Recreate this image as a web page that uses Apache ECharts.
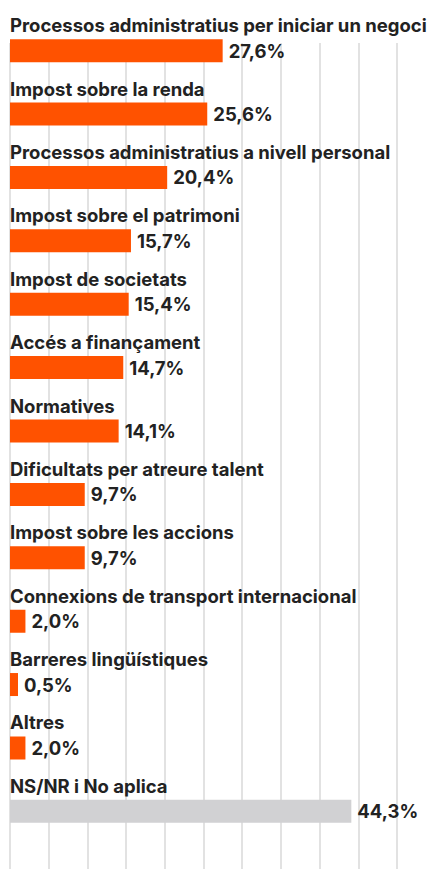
<!DOCTYPE html>
<html>
<head>
<meta charset="utf-8">
<script src="https://cdn.jsdelivr.net/npm/echarts@6/dist/echarts.min.js"></script>
<style>
html, body { margin: 0; padding: 0; background: #fff; }
#chart { width: 428px; height: 869px; }
</style>
</head>
<body>
<div id="chart"></div>
<script>
// categories, top to bottom
var categories = [
    'Processos administratius per iniciar un negoci',
    'Impost sobre la renda',
    'Processos administratius a nivell personal',
    'Impost sobre el patrimoni',
    'Impost de societats',
    'Accés a finançament',
    'Normatives',
    'Dificultats per atreure talent',
    'Impost sobre les accions',
    'Connexions de transport internacional',
    'Barreres lingüístiques',
    'Altres',
    'NS/NR i No aplica'
];
// percentages
var values = [27.6, 25.6, 20.4, 15.7, 15.4, 14.7, 14.1, 9.7, 9.7, 2.0, 0.5, 2.0, 44.3];
// last row drawn in gray
var grayRows = ['NS/NR i No aplica'];

var ORANGE = '#ff5200';
var GRAY = '#d1d1d3';
var FONT = 'Inter';
var FS = 18.5;

var barData = [];
for (var i = 0; i < values.length; i++) {
    barData.push({
        value: values[i],
        itemStyle: { color: grayRows.indexOf(categories[i]) >= 0 ? GRAY : ORANGE }
    });
}

var chart = echarts.init(document.getElementById('chart'), null, { renderer: 'svg' });

var option = {
    animation: false,
    grid: [
        // bars
        { left: 10, right: 31, top: 19, bottom: 26, containLabel: false },
        // background gridlines
        { left: 10, right: 31, top: 43, bottom: 0, containLabel: false }
    ],
    xAxis: [
        {
            gridIndex: 0, type: 'value', min: 0, max: 50,
            show: false
        },
        {
            gridIndex: 1, type: 'value', min: 0, max: 50, interval: 5,
            axisLine: { show: false }, axisTick: { show: false }, axisLabel: { show: false },
            splitLine: { show: true, lineStyle: { color: '#e2e2e2', width: 2 } }
        }
    ],
    yAxis: [
        {
            gridIndex: 0, type: 'category', data: categories, inverse: true,
            axisLine: { show: false }, axisTick: { show: false }, splitLine: { show: false },
            axisLabel: {
                inside: true, margin: 0, align: 'left', verticalAlign: 'bottom',
                padding: [0, 0, 16, 0],
                color: '#222', fontFamily: FONT, fontWeight: 'bold', fontSize: FS
            },
            z: 5
        },
        {
            gridIndex: 1, type: 'value', show: false, min: 0, max: 1
        }
    ],
    series: [{
        type: 'bar',
        xAxisIndex: 0, yAxisIndex: 0,
        data: barData,
        barWidth: 23,
        barMinHeight: 8,
        label: {
            show: true, position: 'right', distance: 6,
            color: '#222', fontFamily: FONT, fontWeight: 'bold', fontSize: FS,
            formatter: function (p) { return p.value.toFixed(1).replace('.', ',') + '%'; }
        },
        z: 3
    }]
};
chart.setOption(option);
</script>
</body>
</html>
